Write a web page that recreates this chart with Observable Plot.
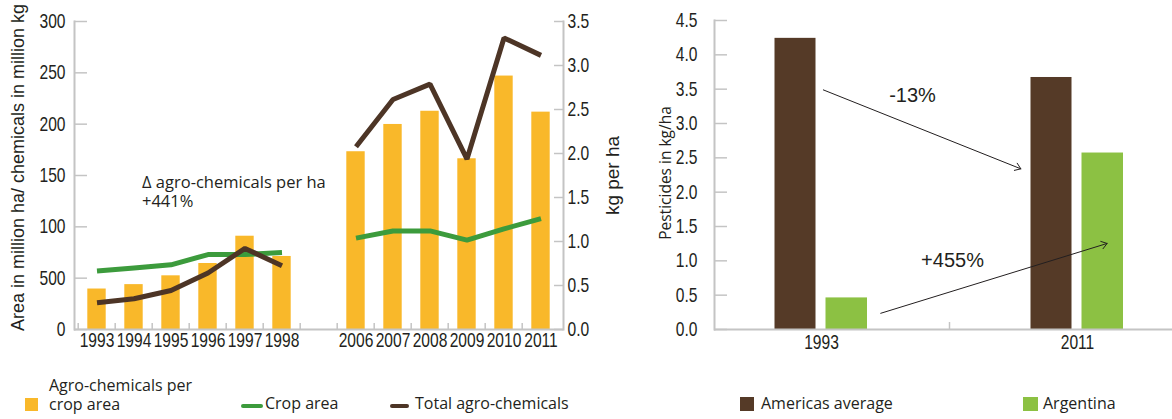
<!DOCTYPE html>
<html>
<head>
<meta charset="utf-8">
<script src="https://cdn.jsdelivr.net/npm/d3@7"></script>
<script src="https://cdn.jsdelivr.net/npm/@observablehq/plot@0.6"></script>
<style>
  body { margin: 0; background: #fff; }
  #wrap { position: relative; width: 1172px; height: 419px; overflow: hidden; font-family: "Open Sans", sans-serif; color: #231f20; }
  #left { position: absolute; left: 0; top: 0; }
  #right { position: absolute; left: 630px; top: 0; }
  .lg { position: absolute; font-size: 16px; line-height: 19px; white-space: nowrap; }
  .sw { position: absolute; }
</style>
</head>
<body>
<div id="wrap">
  <div id="left"></div>
  <div id="right"></div>
  <div class="sw" style="left:25px;top:398px;width:13px;height:13px;background:#F9B82A"></div>
  <div class="lg" style="left:49px;top:376px;">Agro-chemicals per<br>crop area</div>
  <div class="sw" style="left:241px;top:404px;width:22px;height:4px;border-radius:2px;background:#3C9B3C"></div>
  <div class="lg" style="left:265px;top:394px;">Crop area</div>
  <div class="sw" style="left:390px;top:404px;width:19px;height:4px;border-radius:2px;background:#4D3526"></div>
  <div class="lg" style="left:415px;top:394px;">Total agro-chemicals</div>
  <div class="sw" style="left:740px;top:397px;width:14px;height:14px;background:#553A27"></div>
  <div class="lg" style="left:761px;top:394px;">Americas average</div>
  <div class="sw" style="left:1023px;top:397px;width:15px;height:14px;background:#8CC143"></div>
  <div class="lg" style="left:1043px;top:394px;">Argentina</div>
</div>
<script>
// ---------- Left chart data ----------
const xCategories = ["1993", "1994", "1995", "1996", "1997", "1998", " ", "2006", "2007", "2008", "2009", "2010", "2011"];
const years = ["1993", "1994", "1995", "1996", "1997", "1998", "2006", "2007", "2008", "2009", "2010", "2011"];
const perHa = [0.46, 0.51, 0.61, 0.75, 1.06, 0.83, 2.02, 2.33, 2.48, 1.94, 2.88, 2.47];   // kg per ha (right axis)
const cropArea = [57, 60, 63, 73, 73, 75, 89, 96, 96, 87, 98, 108];                       // million ha
const totalChem = [26, 30, 38, 55, 79, 62, 178, 224, 239, 166, 284, 267];                 // million kg
const periods = ["1993-1998", "1993-1998", "1993-1998", "1993-1998", "1993-1998", "1993-1998",
                 "2006-2011", "2006-2011", "2006-2011", "2006-2011", "2006-2011", "2006-2011"];
const leftTicks = [0, 50, 100, 150, 200, 250, 300];
const leftTickLabels = ["0", "500", "100", "150", "200", "250", "300"];
const rightTicks = [0, 0.5, 1.0, 1.5, 2.0, 2.5, 3.0, 3.5];
const leftAxisTitle = "Area in million ha/ chemicals in million kg";
const rightAxisTitle = "kg per ha";
const noteText = ["Δ agro-chemicals per ha\n+441%"];

// ---------- Right chart data ----------
const groups = ["1993", "2011"];
const americas = [4.24, 3.67];
const argentina = [0.46, 2.57];
const pestTicks = [0, 0.5, 1.0, 1.5, 2.0, 2.5, 3.0, 3.5, 4.0, 4.5];
const pestTitle = "Pesticides in kg/ha";
const changeLabels = ["-13%", "+455%"];
const arrowDown = [{from: "1993", to: "2011", y1: 3.5, y2: 2.01}];
const arrowUp = [{from: "1993", to: "2011", y1: -0.03, y2: 1.12}];
const labelDown = [{x: "1993", y: 3.41, text: changeLabels[0]}];
const labelUp = [{x: "1993", y: 1.0, text: changeLabels[1]}];

// ---------- Colours & fonts ----------
const cBar = "#F9B82A", cGreen = "#3C9B3C", cBrown = "#4D3526";
const cAmericas = "#553A27", cArgentina = "#8CC143";
const cAxis = "#C4C4C4", cText = "#231F20";
const sans = "'Liberation Sans', Arial, sans-serif";
const openSans = "'Open Sans', sans-serif";
const squeeze = 0.78; // horizontal condensing of the condensed-style labels

function condense(svg) {
  svg.querySelectorAll('g[aria-label="x-axis tick label"] text, g[aria-label="y-axis tick label"] text, g[aria-label="condensed"] text')
    .forEach(t => t.setAttribute("transform", (t.getAttribute("transform") || "") + ` scale(${squeeze},1)`));
}

// ---------- Left chart ----------
const k = 300 / 3.5;
const rows = years.map((y, i) => ({year: y, perHa: perHa[i], crop: cropArea[i], total: totalChem[i], period: periods[i]}));
const W1 = 630, H1 = 370, mL1 = 74, mR1 = 67, mT1 = 21, mB1 = 41;
const step1 = (W1 - mL1 - mR1) / xCategories.length;

const left = Plot.plot({
  width: W1, height: H1,
  marginLeft: mL1, marginRight: mR1, marginTop: mT1, marginBottom: mB1,
  style: {fontFamily: sans, fontSize: "20px", color: cText, background: "transparent", overflow: "visible"},
  x: {type: "band", domain: xCategories, padding: 0},
  y: {domain: [0, 300]},
  marks: [
    Plot.barY(rows, {x: "year", y: d => d.perHa * k, fill: cBar, insetLeft: 9.3, insetRight: 9.3}),
    Plot.line(rows, {x: "year", y: "crop", z: "period", stroke: cGreen, strokeWidth: 5, strokeLinejoin: "miter", strokeLinecap: "butt"}),
    Plot.line(rows, {x: "year", y: "total", z: "period", stroke: cBrown, strokeWidth: 5, strokeLinejoin: "miter", strokeLinecap: "butt"}),
    Plot.ruleY([0], {stroke: cAxis, strokeWidth: 2}),
    Plot.frame({anchor: "left", stroke: cAxis, strokeWidth: 2}),
    Plot.frame({anchor: "right", stroke: cAxis, strokeWidth: 2}),
    Plot.axisY({anchor: "left", ticks: leftTicks, tickFormat: d => leftTickLabels[leftTicks.indexOf(d)],
      tickSize: -13, tickPadding: 22, stroke: cAxis, strokeWidth: 1.5, fill: cText, fontSize: 20, label: null}),
    Plot.axisY({anchor: "right", ticks: rightTicks.map(v => v * k), tickFormat: d => (d / k).toFixed(1),
      tickSize: -10, tickPadding: 14, stroke: cAxis, strokeWidth: 1.5, fill: cText, fontSize: 20, label: null}),
    Plot.axisX({anchor: "bottom", tickSize: -6, dx: -step1 / 2, stroke: cAxis, strokeWidth: 1.5, fill: "none", label: null}),
    Plot.axisX({anchor: "bottom", tickSize: 0, tickPadding: 3, tickFormat: d => d.trim(), fill: cText, fontSize: 20, label: null}),
    Plot.text([leftAxisTitle], {frameAnchor: "left", textAnchor: "middle", rotate: -90, dx: -56, dy: -8, fontFamily: sans, fontSize: 18, fill: cText}),
    Plot.text([rightAxisTitle], {frameAnchor: "right", textAnchor: "middle", rotate: -90, dx: 49, fontFamily: sans, fontSize: 19, fill: cText, ariaLabel: "condensed"}),
    Plot.text(noteText, {x: () => "1994", y: () => 151, text: d => d, textAnchor: "start", lineAnchor: "top", dx: 8,
      fontFamily: openSans, fontSize: 16.5, lineHeight: 1.15, fill: cText})
  ]
});
condense(left);
document.getElementById("left").append(left);

// ---------- Right chart ----------
const amRows = groups.map((g, i) => ({year: g, value: americas[i]}));
const arRows = groups.map((g, i) => ({year: g, value: argentina[i]}));
const W2 = 542, H2 = 370, mL2 = 84, mR2 = 0, mT2 = 20, mB2 = 41;
const range2 = [63, 575];
const step2 = (range2[1] - range2[0]) / groups.length;

const right = Plot.plot({
  width: W2, height: H2,
  marginLeft: mL2, marginRight: mR2, marginTop: mT2, marginBottom: mB2,
  style: {fontFamily: sans, fontSize: "20px", color: cText, background: "transparent", overflow: "visible"},
  x: {type: "band", domain: groups, range: range2, padding: 0},
  y: {domain: [0, 4.5]},
  marks: [
    Plot.barY(amRows, {x: "year", y: "value", fill: cAmericas, insetLeft: 81.5, insetRight: 133.5}),
    Plot.barY(arRows, {x: "year", y: "value", fill: cArgentina, insetLeft: 132.5, insetRight: 82}),
    Plot.ruleY([0], {stroke: cAxis, strokeWidth: 2}),
    Plot.frame({anchor: "left", stroke: cAxis, strokeWidth: 2}),
    Plot.axisY({anchor: "left", ticks: pestTicks, tickFormat: d => d.toFixed(1),
      tickSize: -13, tickPadding: 30, stroke: cAxis, strokeWidth: 1.5, fill: cText, fontSize: 20, label: null}),
    Plot.axisX({anchor: "bottom", ticks: ["2011"], tickSize: -7, dx: -step2 / 2, stroke: cAxis, strokeWidth: 1.5, fill: "none", label: null}),
    Plot.axisX({anchor: "bottom", tickSize: 0, tickPadding: 5, fill: cText, fontSize: 20, label: null}),
    Plot.text([pestTitle], {frameAnchor: "left", textAnchor: "middle", rotate: -90, dx: -48, dy: -2, fontFamily: openSans, fontSize: 15.5, fill: cText}),
    Plot.arrow(arrowDown, {x1: "from", y1: "y1", x2: "to", y2: "y2", insetStart: 2, insetEnd: 61,
      stroke: cText, strokeWidth: 1, headLength: 10, headAngle: 70}),
    Plot.arrow(arrowUp, {x1: "from", y1: "y1", x2: "to", y2: "y2", insetStart: 62, insetEnd: -31,
      stroke: cText, strokeWidth: 1, headLength: 10, headAngle: 70}),
    Plot.text(labelDown, {x: "x", y: "y", text: "text", dx: 91, fontFamily: sans, fontSize: 20, fill: cText, ariaLabel: "condensed"}),
    Plot.text(labelUp, {x: "x", y: "y", text: "text", dx: 131, fontFamily: sans, fontSize: 20, fill: cText, ariaLabel: "condensed"})
  ]
});
condense(right);
document.getElementById("right").append(right);
</script>
</body>
</html>
